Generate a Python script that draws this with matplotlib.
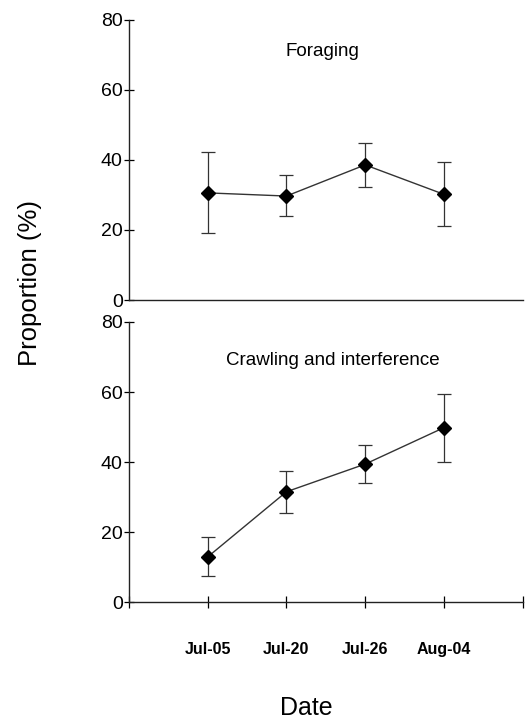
import matplotlib
matplotlib.use("Agg")
from matplotlib import pyplot as plt

# sampling dates
dates = ["Jul-05", "Jul-20", "Jul-26", "Aug-04"]
xpos = [1, 2, 3, 4]

# foraging proportion (%) with error bar ends
forage = [30.6, 29.7, 38.6, 30.2]
forage_hi = [42.3, 35.7, 44.8, 39.3]
forage_lo = [19.1, 24.0, 32.2, 21.1]

# crawling and interference proportion (%)
crawl = [12.9, 31.5, 39.4, 49.8]
crawl_hi = [18.5, 37.4, 45.0, 59.3]
crawl_lo = [7.4, 25.5, 33.9, 40.1]

yticks = [0, 20, 40, 60, 80]

plt.rcParams['font.family'] = ['Liberation Sans', 'DejaVu Sans']

fig = plt.figure(figsize=(5.31, 7.21), dpi=100)
ax1 = fig.add_axes([0.243, 0.5839, 0.741, 0.3884])
ax2 = fig.add_axes([0.243, 0.165, 0.741, 0.3884])


def panel(ax, vals, hi, lo, title, tx, ty):
    err = [[v - l for v, l in zip(vals, lo)], [h - v for v, h in zip(vals, hi)]]
    ax.errorbar(xpos, vals, yerr=err, fmt="none", ecolor="#333333",
                elinewidth=0.9, capsize=5, capthick=0.9)
    ax.plot(xpos, vals, color="#333333", lw=1.0, marker="D", ms=7.5,
            mfc="black", mec="black")
    ax.set_xlim(0, 5)
    ax.set_ylim(0, 80)
    ax.set_yticks(yticks)
    ax.spines["top"].set_visible(False)
    ax.spines["right"].set_visible(False)
    for s in ["left", "bottom"]:
        ax.spines[s].set_linewidth(1.0)
        ax.spines[s].set_color("#222222")
    ax.tick_params(axis="y", direction="inout", length=7, width=0.9,
                   labelsize=14, pad=1)
    ax.text(tx, ty, title, transform=ax.transAxes, ha="center", va="center",
            fontsize=13.5)


panel(ax1, forage, forage_hi, forage_lo, "Foraging", 0.491, 0.886)
panel(ax2, crawl, crawl_hi, crawl_lo, "Crawling and interference", 0.518, 0.861)

ax1.set_xticks([])
ax2.set_xticks([0, 1, 2, 3, 4, 5])
ax2.set_xticklabels([""] + dates + [""], fontsize=11.5, fontweight="bold")
ax2.tick_params(axis="x", direction="inout", length=9, width=0.9, pad=24)

fig.text(0.057, 0.6075, "Proportion (%)", rotation=90, ha="center",
         va="center", fontsize=18.5)
fig.text(0.576, 0.018, "Date", ha="center", va="center", fontsize=18)

fig.savefig("out.png", dpi=100)
